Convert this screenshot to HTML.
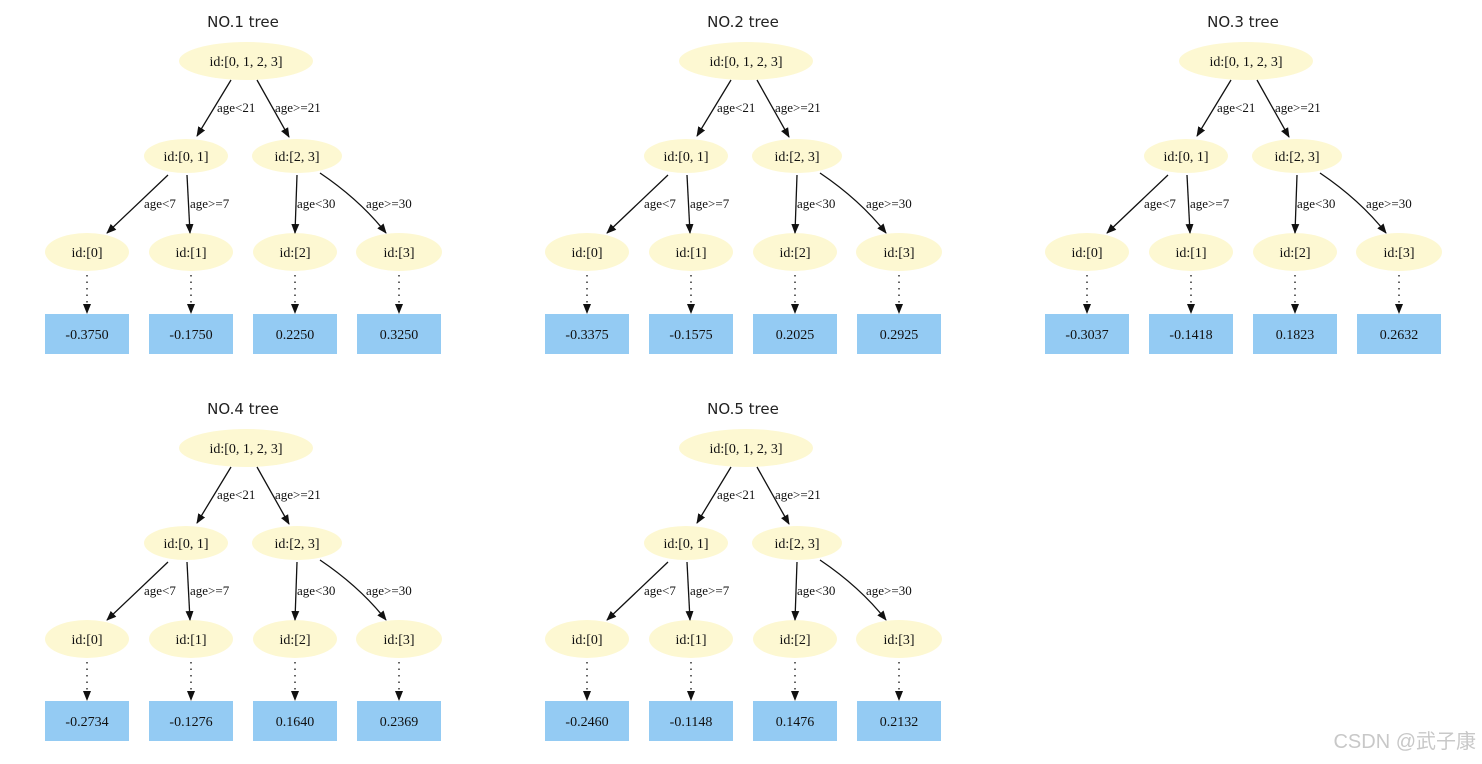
<!DOCTYPE html>
<html><head><meta charset="utf-8"><style>
html,body{margin:0;padding:0;background:#fff;}
svg{display:block}
.t{font-family:"DejaVu Sans","Liberation Sans",sans-serif;font-size:15px;fill:#222;text-anchor:middle}
.n{font-family:"Liberation Serif",serif;font-size:14px;fill:#111;text-anchor:middle}
.l{font-family:"Liberation Serif",serif;font-size:13px;fill:#111}
.e{fill:#fdf8d2}
.b{fill:#94cbf3}
.s{stroke:#111;stroke-width:1.3;fill:none}
.d{stroke:#111;stroke-width:1.3;stroke-dasharray:1.5 5;fill:none}
</style></head><body>
<svg width="1482" height="764" viewBox="0 0 1482 764">
<defs>
<marker id="a" markerWidth="10" markerHeight="10" refX="9" refY="5" orient="auto" markerUnits="userSpaceOnUse"><path d="M0,1 L10,5 L0,9 z" fill="#111"/></marker>
<g id="tree">
<ellipse class="e" cx="246" cy="61" rx="67" ry="19"/>
<text class="n" x="246" y="66">id:[0, 1, 2, 3]</text>
<ellipse class="e" cx="186" cy="156" rx="42" ry="17"/>
<text class="n" x="186" y="161">id:[0, 1]</text>
<ellipse class="e" cx="297" cy="156" rx="45" ry="17"/>
<text class="n" x="297" y="161">id:[2, 3]</text>
<path class="s" d="M231,80 L197,136" marker-end="url(#a)"/>
<path class="s" d="M257,80 L289,137" marker-end="url(#a)"/>
<text class="l" x="217" y="112">age&lt;21</text>
<text class="l" x="275" y="112">age&gt;=21</text>
<ellipse class="e" cx="87" cy="252" rx="42" ry="19"/>
<ellipse class="e" cx="191" cy="252" rx="42" ry="19"/>
<ellipse class="e" cx="295" cy="252" rx="42" ry="19"/>
<ellipse class="e" cx="399" cy="252" rx="43" ry="19"/>
<text class="n" x="87" y="257">id:[0]</text>
<text class="n" x="191" y="257">id:[1]</text>
<text class="n" x="295" y="257">id:[2]</text>
<text class="n" x="399" y="257">id:[3]</text>
<path class="s" d="M168,175 L107,233" marker-end="url(#a)"/>
<path class="s" d="M187,175 L190,233" marker-end="url(#a)"/>
<path class="s" d="M297,175 L295,233" marker-end="url(#a)"/>
<path class="s" d="M320,173 Q360,200 386,233" marker-end="url(#a)"/>
<text class="l" x="144" y="208">age&lt;7</text>
<text class="l" x="190" y="208">age&gt;=7</text>
<text class="l" x="297" y="208">age&lt;30</text>
<text class="l" x="366" y="208">age&gt;=30</text>
<path class="d" d="M87,275 L87,313" marker-end="url(#a)"/>
<path class="d" d="M191,275 L191,313" marker-end="url(#a)"/>
<path class="d" d="M295,275 L295,313" marker-end="url(#a)"/>
<path class="d" d="M399,275 L399,313" marker-end="url(#a)"/>
<rect class="b" x="45" y="314" width="84" height="40"/>
<rect class="b" x="149" y="314" width="84" height="40"/>
<rect class="b" x="253" y="314" width="84" height="40"/>
<rect class="b" x="357" y="314" width="84" height="40"/>
</g>
</defs>
<g transform="translate(0,0)"><use href="#tree"/><text class="t" x="243" y="27">NO.1 tree</text>
<text class="n" x="87" y="339">-0.3750</text><text class="n" x="191" y="339">-0.1750</text><text class="n" x="295" y="339">0.2250</text><text class="n" x="399" y="339">0.3250</text></g>
<g transform="translate(500,0)"><use href="#tree"/><text class="t" x="243" y="27">NO.2 tree</text>
<text class="n" x="87" y="339">-0.3375</text><text class="n" x="191" y="339">-0.1575</text><text class="n" x="295" y="339">0.2025</text><text class="n" x="399" y="339">0.2925</text></g>
<g transform="translate(1000,0)"><use href="#tree"/><text class="t" x="243" y="27">NO.3 tree</text>
<text class="n" x="87" y="339">-0.3037</text><text class="n" x="191" y="339">-0.1418</text><text class="n" x="295" y="339">0.1823</text><text class="n" x="399" y="339">0.2632</text></g>
<g transform="translate(0,387)"><use href="#tree"/><text class="t" x="243" y="27">NO.4 tree</text>
<text class="n" x="87" y="339">-0.2734</text><text class="n" x="191" y="339">-0.1276</text><text class="n" x="295" y="339">0.1640</text><text class="n" x="399" y="339">0.2369</text></g>
<g transform="translate(500,387)"><use href="#tree"/><text class="t" x="243" y="27">NO.5 tree</text>
<text class="n" x="87" y="339">-0.2460</text><text class="n" x="191" y="339">-0.1148</text><text class="n" x="295" y="339">0.1476</text><text class="n" x="399" y="339">0.2132</text></g>
<text x="1476" y="748" text-anchor="end" style="font-family:'Liberation Sans','Noto Sans CJK SC',sans-serif;font-size:20px;fill:#c8c8c8">CSDN @武子康</text>
</svg>
</body></html>
